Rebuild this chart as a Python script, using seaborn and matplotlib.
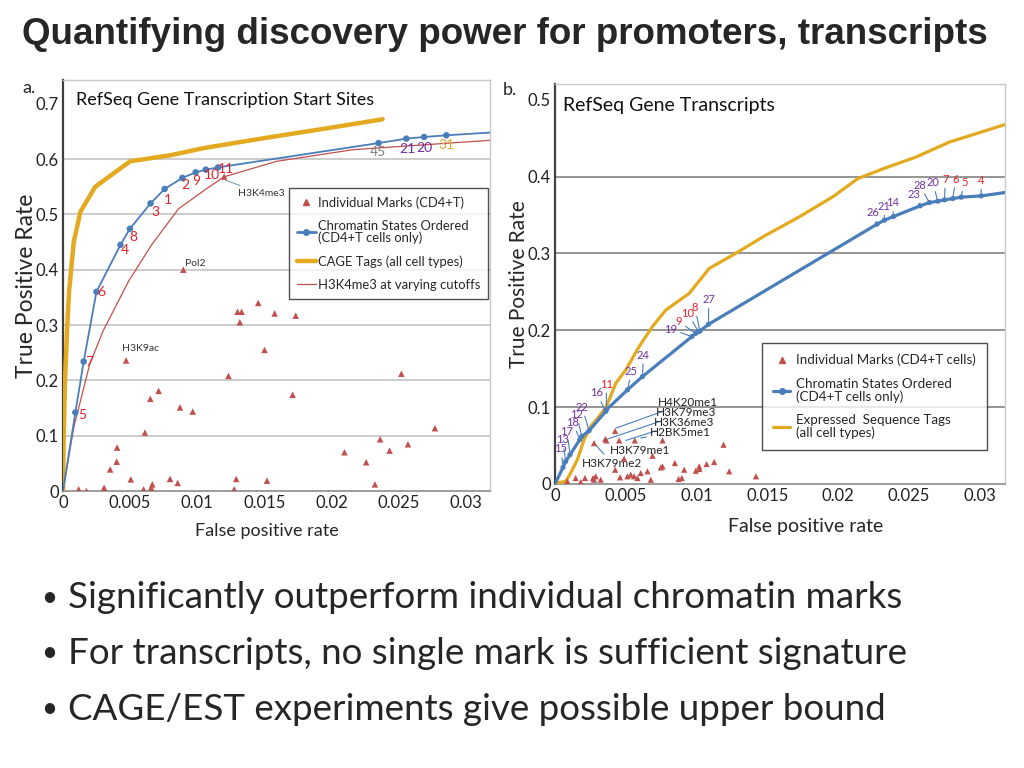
import matplotlib
matplotlib.use("Agg")
import matplotlib.pyplot as plt
from matplotlib.lines import Line2D
import pandas as pd
import seaborn as sns

sns.set_style("white")
plt.rcParams['font.family'] = ['Lato', 'DejaVu Sans']

# ---------------- panel a : RefSeq TSS ----------------
a_state_fpr = [0, 0.00092, 0.00154, 0.00249, 0.00428, 0.00498, 0.00652, 0.00757, 0.00889,
               0.00988, 0.01063, 0.01155, 0.0235, 0.02557, 0.02689, 0.02855, 0.0318]
a_state_tpr = [0, 0.142, 0.234, 0.360, 0.445, 0.474, 0.520, 0.546, 0.566,
               0.576, 0.581, 0.585, 0.629, 0.637, 0.640, 0.643, 0.648]
a_state_ids = ['', '5', '7', '6', '4', '8', '3', '1', '2', '9', '10', '11', '45', '21', '20', '31', '']

a_cage_fpr = [0, 0.00005, 0.00015, 0.0003, 0.00045, 0.0008, 0.0013, 0.0024, 0.005,
              0.008, 0.0105, 0.015, 0.02, 0.0238]
a_cage_tpr = [0, 0.10, 0.20, 0.29, 0.36, 0.45, 0.505, 0.55, 0.596,
              0.607, 0.62, 0.638, 0.657, 0.672]

a_k4_fpr = [0, 0.0008, 0.002, 0.003, 0.0049, 0.0066, 0.0086, 0.0106, 0.012, 0.0159, 0.0216, 0.0318]
a_k4_tpr = [0, 0.115, 0.23, 0.29, 0.38, 0.445, 0.51, 0.545, 0.568, 0.596, 0.617, 0.634]

a_marks_fpr = [0.0120, 0.00896, 0.0047, 0.0130, 0.0133, 0.01317, 0.01454, 0.01576, 0.01733,
               0.01501, 0.01232, 0.0171, 0.0252, 0.0277, 0.02362, 0.02569, 0.02432, 0.02096,
               0.02258, 0.02323, 0.00712, 0.0065, 0.00871, 0.00966, 0.0061, 0.00403, 0.0040,
               0.00351, 0.00505, 0.00797, 0.00854, 0.0129, 0.01275, 0.01519, 0.00665, 0.00657,
               0.0060, 0.00306, 0.00117, 0.00174]
a_marks_tpr = [0.5685, 0.400, 0.236, 0.324, 0.324, 0.305, 0.340, 0.321, 0.317,
               0.255, 0.208, 0.174, 0.212, 0.1135, 0.0935, 0.0845, 0.073, 0.070,
               0.052, 0.012, 0.181, 0.1666, 0.151, 0.1436, 0.1056, 0.0785, 0.053,
               0.039, 0.021, 0.0217, 0.0145, 0.0217, 0.003, 0.0187, 0.012, 0.006,
               0.003, 0.006, 0.003, 0.0]

# ---------------- panel b : RefSeq transcripts ----------------
b_state_fpr = [0, 0.000566, 0.000755, 0.00106, 0.00175, 0.00189, 0.00241, 0.00358, 0.00363,
               0.00512, 0.00618, 0.00967, 0.00995, 0.01014, 0.01024, 0.01085, 0.02276, 0.02328,
               0.02392, 0.0258, 0.02646, 0.02705, 0.02752, 0.02811, 0.0287, 0.03012, 0.03177]
b_state_tpr = [0, 0.0216, 0.0294, 0.0381, 0.0576, 0.0619, 0.0693, 0.0944, 0.0965,
               0.1225, 0.1398, 0.1918, 0.1961, 0.1983, 0.1991, 0.2078, 0.3381, 0.3433,
               0.3481, 0.3619, 0.3662, 0.368, 0.3697, 0.3714, 0.3732, 0.3749, 0.3792]
b_state_ids = ['', '15', '13', '17', '18', '12', '22', '16', '11', '25', '24', '19', '9', '10',
               '8', '27', '26', '21', '14', '23', '28', '20', '7', '6', '5', '4', '']

b_est_fpr = [0, 0.00076, 0.00111, 0.00158, 0.00205, 0.00252, 0.00311, 0.00363, 0.0043, 0.005,
             0.00594, 0.00688, 0.00783, 0.00948, 0.0109, 0.01255, 0.0149, 0.01726, 0.01962,
             0.0214, 0.02316, 0.02552, 0.02788, 0.03177]
b_est_tpr = [0.001, 0.0034, 0.0143, 0.0316, 0.0575, 0.0748, 0.0878, 0.1008, 0.1312, 0.1484,
             0.1787, 0.2047, 0.2264, 0.248, 0.2805, 0.2978, 0.3238, 0.3476, 0.3736,
             0.3974, 0.410, 0.4255, 0.445, 0.4675]

b_marks_fpr = [0.00425, 0.00363, 0.00355, 0.00453, 0.00564, 0.00276, 0.0076, 0.01191, 0.01125,
               0.01071, 0.01019, 0.00995, 0.0102, 0.00847, 0.0076, 0.00748, 0.00689, 0.00488,
               0.00425, 0.0046, 0.00512, 0.00535, 0.00559, 0.00583, 0.00606, 0.00653, 0.00677,
               0.00913, 0.00873, 0.00896, 0.01231, 0.0142, 0.00146, 0.00212, 0.00182, 0.00269,
               0.00288, 0.00276, 0.00323, 0.00087]
b_marks_tpr = [0.069, 0.0567, 0.0585, 0.0567, 0.0567, 0.0532, 0.0567, 0.0511, 0.0286,
               0.026, 0.0229, 0.0173, 0.0195, 0.0273, 0.0229, 0.0216, 0.0368, 0.0329,
               0.0186, 0.0087, 0.010, 0.0121, 0.010, 0.0078, 0.0143, 0.0165, 0.0056,
               0.0186, 0.0065, 0.0078, 0.0165, 0.010, 0.0078, 0.0078, 0.0026, 0.0078,
               0.010, 0.0056, 0.0056, 0.0035]

fpr_ticks = [0, 0.005, 0.01, 0.015, 0.02, 0.025, 0.03]
fpr_tick_labels = ['0', '0.005', '0.01', '0.015', '0.02', '0.025', '0.03']

# colours
BLUE = '#4a7ebb'
GOLD = '#e3a91f'
MARK = '#c0504d'
RED_NUM = '#e8202a'
PURPLE = '#7030a0'

W, H = 1024, 768
fig = plt.figure(figsize=(10.24, 7.68), dpi=100)


def add_px_axes(left, top, right, bottom):
    return fig.add_axes([left / W, 1 - bottom / H, (right - left) / W, (bottom - top) / H])


def style_axes(ax, grid_color, n_grid, xlab_size, ylab_size):
    for s in ['top', 'right']:
        ax.spines[s].set_color('#c8c8c8')
        ax.spines[s].set_linewidth(1.0)
    ax.spines['left'].set_color('#404040')
    ax.spines['left'].set_linewidth(1.6)
    ax.spines['bottom'].set_color('#8c8c8c')
    ax.spines['bottom'].set_linewidth(1.2)
    for yv in [0.1, 0.2, 0.3, 0.4, 0.5, 0.6][:n_grid]:
        ax.axhline(yv, color=grid_color, lw=1.3, zorder=0)
    ax.set_xticks(fpr_ticks)
    ax.set_xticklabels(fpr_tick_labels)
    ax.tick_params(axis='both', length=0, labelsize=12, pad=3, colors='#222222')
    ax.set_xlabel('False positive rate', fontsize=xlab_size)
    ax.set_ylabel('True Positive Rate', fontsize=ylab_size)
    ax.xaxis.label.set_va('center')
    ax.yaxis.label.set_va('center')


# ---------------- draw panel a ----------------
ax1 = add_px_axes(63, 80, 490, 491)
sns.lineplot(x=a_k4_fpr, y=a_k4_tpr, ax=ax1, sort=False, color=MARK, lw=0.9, zorder=2)
sns.lineplot(x=a_cage_fpr, y=a_cage_tpr, ax=ax1, sort=False, color=GOLD, lw=3.2, zorder=3)
sns.lineplot(x=a_state_fpr, y=a_state_tpr, ax=ax1, sort=False, color=BLUE, lw=1.3, zorder=4)
sns.scatterplot(x=a_state_fpr[1:-1], y=a_state_tpr[1:-1], ax=ax1, color=BLUE, s=22,
                edgecolor='none', zorder=5)
sns.scatterplot(x=a_marks_fpr, y=a_marks_tpr, ax=ax1, marker='^', color=MARK, s=22,
                edgecolor='none', zorder=5)
ax1.set_xlim(0, 0.0318)
ax1.set_ylim(0, 0.743)
ax1.set_yticks([0, 0.1, 0.2, 0.3, 0.4, 0.5, 0.6, 0.7])
ax1.set_yticklabels(['0', '0.1', '0.2', '0.3', '0.4', '0.5', '0.6', '0.7'])
style_axes(ax1, '#c8c8c8', 6, 13, 16.5)
ax1.xaxis.set_label_coords(0.478, -0.097)
ax1.yaxis.set_label_coords(-0.085, 0.5)

a_offsets = [None, (7, -3), (6, 0), (5, 0), (4, -5), (4, -8), (5, -9), (3, -11), (3, -7),
             (1, -9), (6, -5), (8, -2), (-1, -9), (1, -10), (0, -11), (0, -10), None]
a_num_color = {'45': '#808080', '21': PURPLE, '20': PURPLE, '31': '#e0a82e'}
for fx, ty, lab, off in zip(a_state_fpr, a_state_tpr, a_state_ids, a_offsets):
    if not lab:
        continue
    ax1.annotate(lab, (fx, ty), xytext=off, textcoords='offset pixels', ha='center',
                 va='center', fontsize=10, color=a_num_color.get(lab, RED_NUM), zorder=6)

ax1.annotate('H3K4me3', (0.0121, 0.562), xytext=(0.013, 0.538), fontsize=7.5,
             color='#333333', ha='left', va='center',
             arrowprops=dict(arrowstyle='-', color='#6f8fa8', lw=0.7, shrinkA=0, shrinkB=0))
ax1.text(0.00905, 0.403, 'Pol2', fontsize=7.5, color='#333333', ha='left', va='bottom')
ax1.text(0.0044, 0.25, 'H3K9ac', fontsize=7.5, color='#333333', ha='left', va='bottom')
ax1.text(0.00097, 0.707, 'RefSeq Gene Transcription Start Sites', fontsize=13,
         ha='left', va='center', color='#111111')
fig.text(22 / W, 1 - 88 / H, 'a.', fontsize=13, ha='left', va='center')

a_handles = [
    Line2D([], [], ls='none', marker='^', color=MARK, markersize=5),
    Line2D([], [], color=BLUE, lw=2, marker='o', markersize=4),
    Line2D([], [], color=GOLD, lw=3.2),
    Line2D([], [], color=MARK, lw=0.9),
]
a_labels = ['Individual Marks (CD4+T)', 'Chromatin States Ordered\n(CD4+T cells only)',
            'CAGE Tags (all cell types)', 'H3K4me3 at varying cutoffs']
leg1 = ax1.legend(a_handles, a_labels, loc='upper left', bbox_to_anchor=(0.529, 0.7365),
                  borderaxespad=0, fontsize=9.4, frameon=True, fancybox=False,
                  handlelength=1.45, handletextpad=0.15, labelspacing=0.85,
                  borderpad=0.6, edgecolor='#222222')
leg1.get_frame().set_linewidth(1.0)
for t in leg1.get_texts():
    t.set_linespacing(1.0)

# ---------------- draw panel b ----------------
ax2 = add_px_axes(555, 84, 1005, 484)
sns.lineplot(x=b_est_fpr, y=b_est_tpr, ax=ax2, sort=False, color=GOLD, lw=2.3, zorder=3)
sns.lineplot(x=b_state_fpr, y=b_state_tpr, ax=ax2, sort=False, color=BLUE, lw=2.3, zorder=4)
sns.scatterplot(x=b_state_fpr[1:-1], y=b_state_tpr[1:-1], ax=ax2, color=BLUE, s=14,
                edgecolor='none', zorder=5)
sns.scatterplot(x=b_marks_fpr, y=b_marks_tpr, ax=ax2, marker='^', color=MARK, s=20,
                edgecolor='none', zorder=5)
ax2.set_xlim(0, 0.0318)
ax2.set_ylim(0, 0.5205)
ax2.set_yticks([0, 0.1, 0.2, 0.3, 0.4, 0.5])
ax2.set_yticklabels(['0', '0.1', '0.2', '0.3', '0.4', '0.5'])
style_axes(ax2, '#8c8c8c', 4, 14, 15)
ax2.xaxis.set_label_coords(0.557, -0.107)
ax2.yaxis.set_label_coords(-0.08, 0.5)

b_offsets = [None, (-2, 13), (-3, 16), (-3, 18), (-7, 12), (-5, 16), (-7, 18), (-9, 13),
             (0, 20), (4, 13), (1, 16), (-21, 2), (-17, 6), (-11, 13), (-5, 18), (0, 19),
             (-4, 6), (0, 8), (-1, 8), (-6, 6), (-10, 12), (-5, 13), (1, 15), (3, 14), (3, 9),
             (0, 10), None]
b_red = {'11', '9', '10', '8', '7', '6', '5', '4'}
for fx, ty, lab, off in zip(b_state_fpr, b_state_tpr, b_state_ids, b_offsets):
    if not lab:
        continue
    ax2.annotate(lab, (fx, ty), xytext=off, textcoords='offset pixels', ha='center',
                 va='bottom', fontsize=8, color=RED_NUM if lab in b_red else PURPLE,
                 zorder=6, arrowprops=dict(arrowstyle='-', color=BLUE, lw=0.8,
                                           shrinkA=0, shrinkB=0))

b_mark_notes = [
    ('H4K20me1', (0.0043, 0.0727), (0.0073, 0.1065)),
    ('H3K79me3', (0.00354, 0.0575), (0.00715, 0.093)),
    ('H3K36me3', (0.0050, 0.0567), (0.00696, 0.0805)),
    ('H2BK5me1', (0.00606, 0.060), (0.0067, 0.0675)),
    ('H3K79me1', (0.00354, 0.0554), (0.00389, 0.0433)),
    ('H3K79me2', (0.00276, 0.0532), (0.00189, 0.0273)),
]
for lab, xy, xyt in b_mark_notes:
    ax2.annotate(lab, xy, xytext=xyt, fontsize=8.5, color='#222222', ha='left', va='center',
                 arrowprops=dict(arrowstyle='-', color=BLUE, lw=0.8, shrinkA=0, shrinkB=0))

ax2.text(0.0006, 0.492, 'RefSeq Gene Transcripts', fontsize=14, ha='left', va='center',
         color='#111111')
fig.text(503 / W, 1 - 90 / H, 'b.', fontsize=13, ha='left', va='center')

b_handles = [
    Line2D([], [], ls='none', marker='^', color=MARK, markersize=5),
    Line2D([], [], color=BLUE, lw=2.3, marker='o', markersize=4),
    Line2D([], [], color=GOLD, lw=2.3),
]
b_labels = ['Individual Marks (CD4+T cells)', 'Chromatin States Ordered\n(CD4+T cells only)',
            'Expressed  Sequence Tags\n(all cell types)']
leg2 = ax2.legend(b_handles, b_labels, loc='upper left', bbox_to_anchor=(0.4607, 0.3518),
                  borderaxespad=0, fontsize=9.6, frameon=True, fancybox=False,
                  handlelength=1.3, handletextpad=0.45, labelspacing=0.85,
                  borderpad=0.8, edgecolor='#222222')
leg2.get_frame().set_linewidth(1.0)
for t in leg2.get_texts():
    t.set_linespacing(1.05)

# ---------------- slide text ----------------
fig.text(22 / W, 1 - 35 / H, 'Quantifying discovery power for promoters, transcripts',
         fontsize=26.5, fontweight='bold', family=['Liberation Sans'], ha='left', va='center')

bullets = ['Significantly outperform individual chromatin marks',
           'For transcripts, no single mark is sufficient signature',
           'CAGE/EST experiments give possible upper bound']
for i, b in enumerate(bullets):
    ypx = 598 + i * 55.5
    fig.text(41 / W, 1 - ypx / H, '\u2022', fontsize=20, ha='left', va='center')
    fig.text(68 / W, 1 - ypx / H, b, fontsize=26.5, ha='left', va='center')

fig.savefig('out.png', dpi=100)
